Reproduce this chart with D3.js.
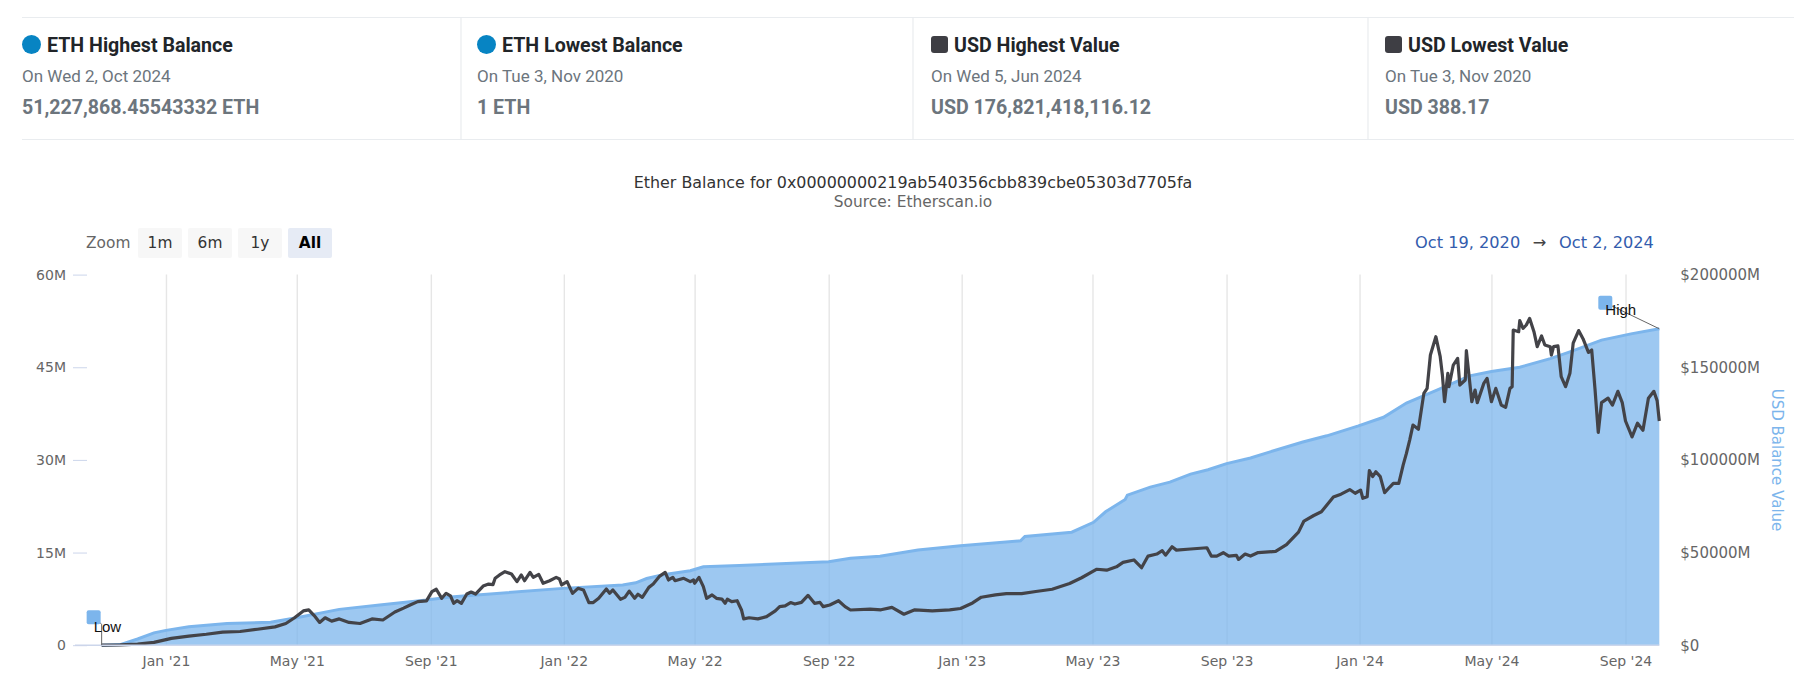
<!DOCTYPE html>
<html>
    <head>
        <title>Ether Balance</title>
        <meta charset="utf-8">
        <script src="https://d3js.org/d3.v7.min.js"></script>
        <style>
            body { margin: 0; background-color: #fff; }
            svg { display: block; }
            .card-title { font: 700 19.6px Roboto, sans-serif; fill: #212529; }
            .card-date { font: 400 17px Roboto, sans-serif; fill: #6c757d; }
            .card-value { font: 700 19.6px Roboto, sans-serif; fill: #6c757d; }
            .axis text { font: 14px "DejaVu Sans", sans-serif; fill: #666; }
            .y2-axis text { font-size: 15px; }
            .axis .domain { display: none; }
            .flag-text { font: 15px "Liberation Sans", sans-serif; fill: #111; }
        </style>
    </head>
    <body>
        <svg width="1794" height="692">
            <g class="cards"></g>
            <g class="head"></g>
            <g class="axis grid"></g>
            <g class="data"></g>
            <g class="axis x-axis"></g>
            <g class="axis y-axis"></g>
            <g class="axis y2-axis"></g>
            <g class="flags"></g>
        </svg>

        <script>
            // days counted from the first date of the range
            var startDate = new Date(2020, 9, 19);
            var endDate = new Date(2024, 9, 2);

            // ETH balance, million ETH (left axis)
            var ethDays = [15, 32, 48, 63, 74, 95, 130, 170, 195, 233, 270, 313, 335, 350, 438, 493, 505, 515, 530, 555, 567, 600, 682, 702, 729, 764, 803, 858, 862, 905, 925, 936, 954, 956, 977, 995, 1014, 1030, 1047, 1069, 1087, 1117, 1139, 1168, 1191, 1212, 1240, 1270, 1290, 1316, 1344, 1362, 1391, 1418, 1444];
            var ethValues = [0, 0.1, 1.0, 2.0, 2.4, 3.0, 3.5, 3.7, 4.5, 5.8, 6.5, 7.3, 7.8, 8.0, 9.2, 9.75, 10.1, 10.8, 11.4, 12.06, 12.7, 12.9, 13.5, 14.07, 14.4, 15.4, 16.1, 16.9, 17.6, 18.3, 19.9, 21.6, 23.6, 24.3, 25.6, 26.4, 27.7, 28.4, 29.4, 30.3, 31.3, 32.9, 33.9, 35.5, 36.9, 39.2, 41.3, 43.6, 44.3, 45, 46.4, 47.5, 49.4, 50.4, 51.23];

            // USD value, billion USD (right axis)
            var usdDays = [15, 32, 48, 63, 79, 95, 111, 126, 142, 158, 174, 184, 192, 200, 205, 210, 215, 220, 226, 233, 242, 252, 263, 273, 284, 292, 298, 305, 313, 318, 322, 327, 331, 335, 338, 341, 345, 350, 354, 358, 365, 370, 374, 376, 380, 385, 391, 396, 400, 403, 408, 411, 416, 420, 426, 432, 435, 437, 442, 447, 452, 457, 462, 466, 471, 478, 481, 484, 491, 495, 499, 504, 507, 511, 517, 521, 527, 532, 535, 539, 541, 549, 555, 558, 559, 563, 567, 570, 575, 579, 584, 587, 589, 593, 598, 602, 604, 609, 617, 625, 633, 637, 642, 647, 651, 657, 663, 669, 674, 677, 683, 691, 697, 702, 720, 730, 740, 751, 761, 777, 793, 803, 814, 822, 835, 845, 859, 872, 887, 903, 914, 928, 937, 946, 952, 962, 969, 975, 983, 988, 991, 997, 1001, 1014, 1029, 1033, 1038, 1044, 1049, 1056, 1058, 1064, 1069, 1076, 1092, 1102, 1113, 1118, 1127, 1134, 1145, 1152, 1160, 1165, 1170, 1172, 1176, 1178, 1181, 1184, 1188, 1192, 1197, 1200, 1205, 1209, 1212, 1215, 1218, 1223, 1228, 1231, 1234, 1239, 1243, 1245, 1247, 1250, 1251, 1255, 1259, 1261, 1266, 1267, 1272, 1275, 1277, 1283, 1286, 1290, 1294, 1299, 1303, 1307, 1309, 1310, 1315, 1316, 1319, 1322, 1325, 1329, 1332, 1336, 1339, 1344, 1345, 1347, 1351, 1354, 1358, 1362, 1365, 1370, 1374, 1379, 1382, 1385, 1388, 1391, 1397, 1401, 1406, 1410, 1413, 1419, 1424, 1429, 1434, 1439, 1442, 1444];
            var usdValues = [0, 0.2, 0.6, 1.5, 3.7, 4.9, 5.9, 7.1, 7.4, 8.6, 9.9, 11.7, 14.8, 18.5, 19.1, 16, 12.3, 14.8, 13, 14.2, 12.3, 11.7, 14.2, 13.6, 17.9, 20, 21.7, 23.5, 23.9, 28.9, 30.2, 25.3, 28, 26.6, 22.6, 24, 22.6, 27.6, 28.7, 27.6, 31.9, 33, 32.7, 36.1, 37.9, 39.7, 38.4, 34.3, 37.9, 34.8, 39.3, 36.6, 38.2, 33.4, 34.8, 36.6, 35.7, 32.5, 34.3, 28, 30.7, 29.8, 23, 23, 25.3, 30.3, 28, 29.8, 24.8, 25.8, 29.2, 25.3, 27.5, 25.8, 31.2, 33, 37.3, 39.3, 35.2, 36.6, 34.8, 36.1, 34.3, 35.2, 33.4, 36.6, 31.6, 25.3, 27.1, 25.3, 24.9, 22.6, 24.8, 23.5, 24, 19, 14.2, 14.8, 14.2, 15.4, 18.5, 20.8, 21.2, 23, 22.2, 23.1, 26.9, 22.6, 23.1, 20.8, 21.7, 24, 20.8, 19, 19.5, 19.1, 20.4, 16.7, 19.1, 18.5, 19.1, 19.8, 22.8, 25.9, 27.2, 27.8, 27.8, 29, 30.2, 33.3, 36.4, 41, 40.5, 42.3, 44.7, 46, 41.8, 48.1, 49.2, 51, 48.6, 53.1, 51.3, 51.9, 52.6, 48.1, 48.1, 49.9, 48.1, 48.5, 46.3, 49.2, 48.1, 50, 50.6, 54.3, 61, 67, 70, 72, 80, 81.5, 84, 82, 83.7, 79.3, 80.1, 94.2, 91, 93.6, 91, 82.3, 85.5, 87.3, 87.3, 97.2, 103.5, 110.7, 118.8, 116.5, 135.9, 138.6, 156.6, 166.5, 155.7, 145.8, 131.4, 146.7, 139.5, 151.2, 154.8, 140.4, 143.1, 159, 131.4, 137.7, 130.9, 141.3, 144, 131.4, 138.6, 129.6, 128.4, 138.6, 139.5, 170.1, 169.2, 175.2, 171, 172.8, 176.4, 169.2, 161.1, 166.9, 162, 161.1, 156.6, 161.1, 161.5, 144.9, 139.5, 146.7, 163, 169.8, 165.4, 158, 159.3, 138.3, 114.8, 130.9, 133.3, 129.6, 137, 130.9, 121, 112.4, 119.8, 116, 133.3, 137, 132, 121];

            var ethTicks = [0, 15, 30, 45, 60];
            var ethTickLabels = ['0', '15M', '30M', '45M', '60M'];
            var usdTicks = [0, 50, 100, 150, 200];
            var usdTickLabels = ['$0', '$50000M', '$100000M', '$150000M', '$200000M'];
            var zoomLabels = ['1m', '6m', '1y', 'All'];

            var cardTitles = ['ETH Highest Balance', 'ETH Lowest Balance', 'USD Highest Value', 'USD Lowest Value'];
            var cardDates = ['On Wed 2, Oct 2024', 'On Tue 3, Nov 2020', 'On Wed 5, Jun 2024', 'On Tue 3, Nov 2020'];
            var cardValues = ['51,227,868.45543332 ETH', '1 ETH', 'USD 176,821,418,116.12', 'USD 388.17'];

            var L = 85.3, R = 1659.3, T = 274.6, B = 645.2;
            var root = d3.select('svg');

            var x = d3.scaleTime().domain([startDate, endDate]).range([L, R]);
            var yEth = d3.scaleLinear().domain([0, 60]).range([B, T]);
            var yUsd = d3.scaleLinear().domain([0, 200]).range([B, T]);

            function toDate(day) {
                return d3.timeDay.offset(startDate, day);
            }

            var ethData = ethDays.map(function (d, i) { return { date: toDate(d), value: ethValues[i] }; });
            var usdData = usdDays.map(function (d, i) { return { date: toDate(d), value: usdValues[i] }; });

            drawCards();
            drawHead();
            drawChart();
            drawFlags();

            function drawCards() {
                var cards = root.select('.cards');
                var cardX = [22, 477, 931, 1385];

                cards.append('line').attr('x1', 22).attr('x2', 1794).attr('y1', 17.5).attr('y2', 17.5)
                    .attr('stroke', '#e9ecef').attr('stroke-width', 1.2);
                cards.append('line').attr('x1', 22).attr('x2', 1794).attr('y1', 139.5).attr('y2', 139.5)
                    .attr('stroke', '#e9ecef').attr('stroke-width', 1.2);

                [461, 913, 1368].forEach(function (d) {
                    cards.append('line').attr('x1', d).attr('x2', d).attr('y1', 17.5).attr('y2', 139.5)
                        .attr('stroke', '#e9ecef').attr('stroke-width', 1.2);
                });

                cardTitles.forEach(function (t, i) {
                    var g = cards.append('g').attr('transform', 'translate(' + cardX[i] + ',0)');
                    if (i < 2) {
                        g.append('circle').attr('cx', 9.5).attr('cy', 44.5).attr('r', 9.5).attr('fill', '#0784c3');
                    } else {
                        g.append('rect').attr('x', 0).attr('y', 36).attr('width', 17).attr('height', 17).attr('rx', 3).attr('fill', '#3e3e44');
                    }
                    g.append('text').attr('class', 'card-title').attr('x', i < 2 ? 25 : 23).attr('y', 52).text(t);
                    g.append('text').attr('class', 'card-date').attr('x', 0).attr('y', 81.5).text(cardDates[i]);
                    g.append('text').attr('class', 'card-value').attr('x', 0).attr('y', 114).text(cardValues[i]);
                });
            }

            function drawHead() {
                var head = root.select('.head');

                head.append('text').attr('x', 913).attr('y', 188).attr('text-anchor', 'middle')
                    .style('font', '15.9px "DejaVu Sans", sans-serif').attr('fill', '#333')
                    .text('Ether Balance for 0x00000000219ab540356cbb839cbe05303d7705fa');
                head.append('text').attr('x', 913).attr('y', 207).attr('text-anchor', 'middle')
                    .style('font', '15.4px "DejaVu Sans", sans-serif').attr('fill', '#666')
                    .text('Source: Etherscan.io');

                head.append('text').attr('x', 86).attr('y', 248)
                    .style('font', '15.4px "DejaVu Sans", sans-serif').attr('fill', '#666').text('Zoom');

                zoomLabels.forEach(function (t, i) {
                    var bx = 138 + i * 50;
                    head.append('rect').attr('x', bx).attr('y', 228).attr('width', 44).attr('height', 30).attr('rx', 2)
                        .attr('fill', t === 'All' ? '#e6ebf5' : '#f7f7f7');
                    head.append('text').attr('x', bx + 22).attr('y', 248).attr('text-anchor', 'middle')
                        .style('font', (t === 'All' ? '700 ' : '') + '15.4px "DejaVu Sans", sans-serif')
                        .attr('fill', t === 'All' ? '#000' : '#333').text(t);
                });

                var rangeFont = '16.2px "DejaVu Sans", sans-serif';
                head.append('text').attr('x', 1415).attr('y', 248).style('font', rangeFont).attr('fill', '#335cad').text('Oct 19, 2020');
                head.append('text').attr('x', 1539.5).attr('y', 248).attr('text-anchor', 'middle').style('font', rangeFont).attr('fill', '#444').text('→');
                head.append('text').attr('x', 1559).attr('y', 248).style('font', rangeFont).attr('fill', '#335cad').text('Oct 2, 2024');
            }

            function drawChart() {
                var months = d3.timeMonth.every(4).range(new Date(2021, 0, 1), new Date(2024, 9, 1));

                // vertical grid behind the area
                var grid = d3.axisBottom(x).tickValues(months).tickSize(T - B).tickFormat('');
                root.select('.grid')
                    .attr('transform', 'translate(0,' + B + ')')
                    .call(grid)
                    .selectAll('.tick line').attr('stroke', '#e6e6e6').attr('stroke-width', 1.4);

                var area = d3.area()
                    .x(function (d) { return x(d.date); })
                    .y0(B)
                    .y1(function (d) { return yEth(d.value); });
                var ethLine = d3.line()
                    .x(function (d) { return x(d.date); })
                    .y(function (d) { return yEth(d.value); });
                var usdLine = d3.line()
                    .x(function (d) { return x(d.date); })
                    .y(function (d) { return yUsd(d.value); });

                var data = root.select('.data');
                data.append('path').datum(ethData).attr('d', area).attr('fill', '#7cb5ec').attr('fill-opacity', 0.75);
                data.append('path').datum(ethData).attr('d', ethLine).attr('fill', 'none').attr('stroke', '#7cb5ec').attr('stroke-width', 3);
                data.append('path').datum(usdData).attr('d', usdLine).attr('fill', 'none').attr('stroke', '#434348')
                    .attr('stroke-width', 3.2).attr('stroke-linejoin', 'round');

                var xAxis = d3.axisBottom(x).tickValues(months).tickSize(0).tickPadding(11)
                    .tickFormat(d3.timeFormat("%b '%y"));
                var xg = root.select('.x-axis').attr('transform', 'translate(0,' + B + ')').call(xAxis);
                xg.append('line').attr('x1', 75).attr('x2', R).attr('y1', 0).attr('y2', 0)
                    .attr('stroke', '#ccd6eb').attr('stroke-width', 1.5);

                var yAxis = d3.axisLeft(yEth).tickValues(ethTicks).tickSize(14).tickPadding(7)
                    .tickFormat(function (d, i) { return ethTickLabels[i]; });
                root.select('.y-axis').attr('transform', 'translate(87,0)').call(yAxis)
                    .selectAll('.tick line').attr('stroke', '#ccd6eb');

                var y2Axis = d3.axisRight(yUsd).tickValues(usdTicks).tickSize(0).tickPadding(21)
                    .tickFormat(function (d, i) { return usdTickLabels[i]; });
                var y2g = root.select('.y2-axis').attr('transform', 'translate(' + R + ',0)').call(y2Axis);
                y2g.append('text')
                    .attr('transform', 'translate(' + (1777 - R) + ',' + 460 + ') rotate(90)')
                    .attr('text-anchor', 'middle')
                    .attr('dy', '0.35em')
                    .style('fill', '#7cb5ec')
                    .text('USD Balance Value');
            }

            function drawFlags() {
                var flags = root.select('.flags');
                var low = ethData[0];
                var high = ethData[ethData.length - 1];

                var lowX = x(low.date), lowY = yEth(low.value);
                flags.append('path').attr('d', 'M' + (lowX - 8) + ',' + (lowY - 28) + 'L' + lowX + ',' + (lowY - 21) + 'L' + lowX + ',' + lowY)
                    .attr('fill', 'none').attr('stroke', '#666').attr('stroke-width', 1);
                flags.append('rect').attr('x', lowX - 15).attr('y', lowY - 35).attr('width', 14).attr('height', 14).attr('rx', 2).attr('fill', '#7cb5ec');
                flags.append('text').attr('class', 'flag-text').attr('x', lowX - 8).attr('y', lowY - 13).text('Low');

                var highX = x(high.date), highY = yEth(high.value);
                flags.append('path').attr('d', 'M' + (highX - 54) + ',' + (highY - 26) + 'L' + highX + ',' + highY)
                    .attr('fill', 'none').attr('stroke', '#666').attr('stroke-width', 1);
                flags.append('rect').attr('x', highX - 61).attr('y', highY - 33).attr('width', 14).attr('height', 14).attr('rx', 2).attr('fill', '#7cb5ec');
                flags.append('text').attr('class', 'flag-text').attr('x', highX - 54).attr('y', highY - 14).text('High');
            }
        </script>
    </body>
</html>
